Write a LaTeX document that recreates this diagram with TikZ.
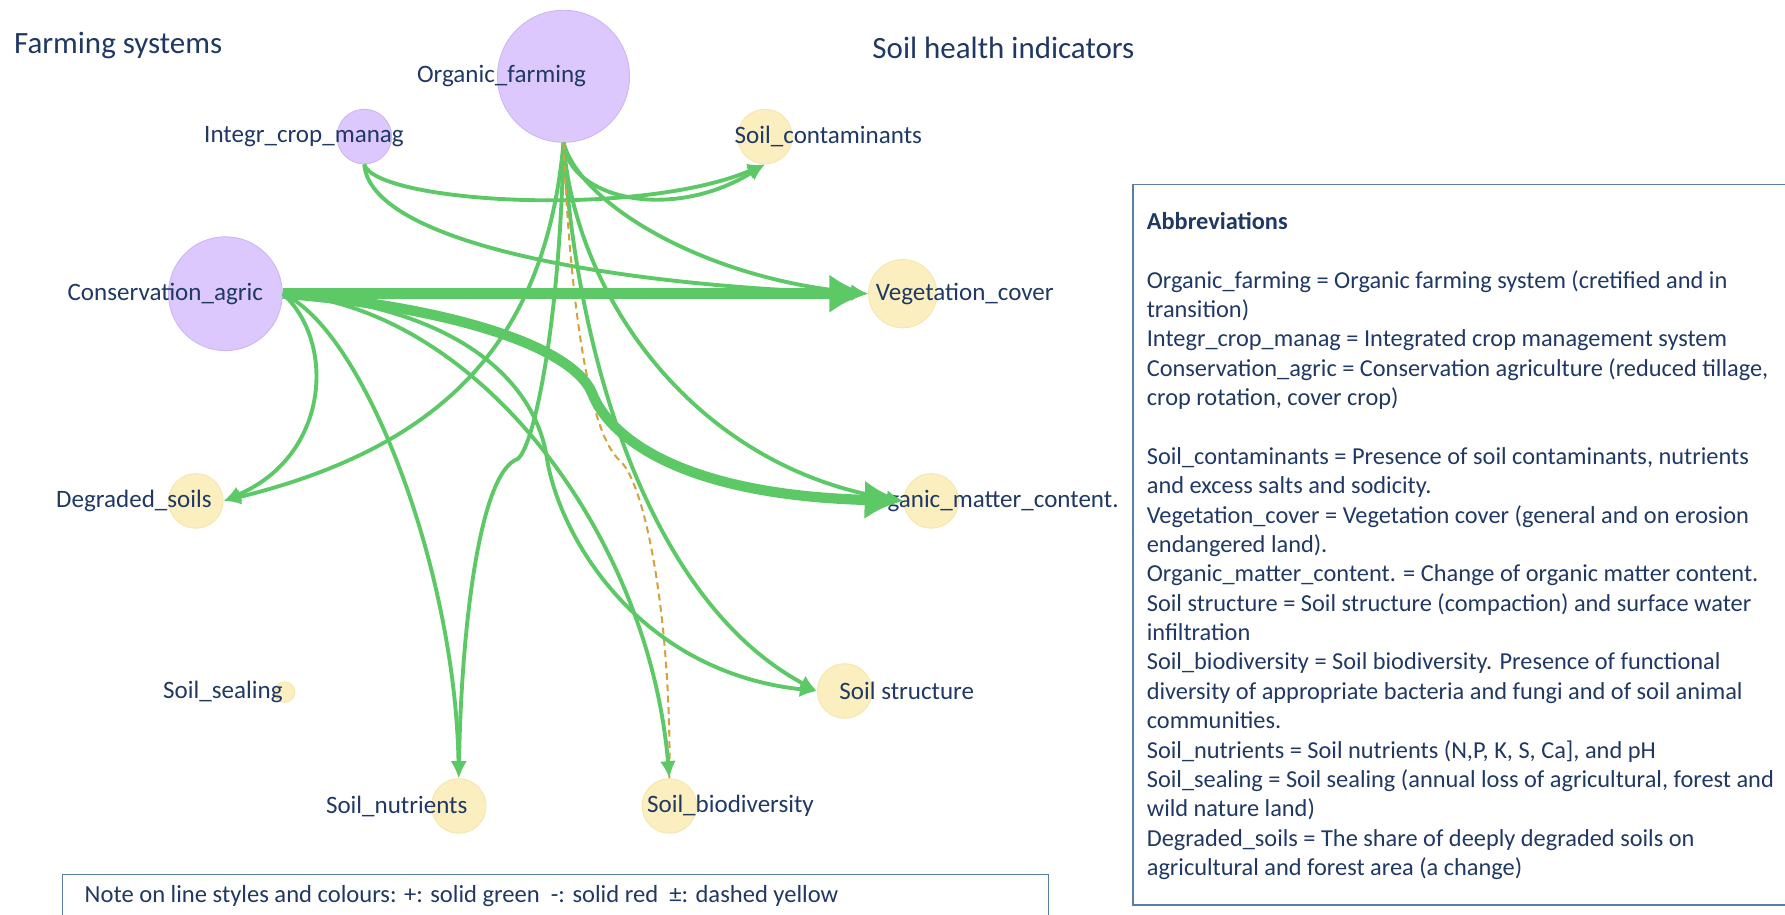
\documentclass[tikz,border=0pt]{standalone}
\usepackage{fontspec}
\setmainfont{Carlito}
\usetikzlibrary{arrows.meta}

\definecolor{edgegreen}{HTML}{5CC866}
\definecolor{farmfill}{HTML}{DCC8FC}
\definecolor{farmline}{HTML}{CDB6F6}
\definecolor{soilfill}{HTML}{FBEFC0}
\definecolor{soilline}{HTML}{F6E6AE}
\definecolor{labelblue}{HTML}{1F3864}
\definecolor{mixyellow}{HTML}{D6A23E}
\definecolor{boxline}{HTML}{5A7DA6}

\begin{document}
\begin{tikzpicture}[x=0.5pt, y=-0.5pt, >=Latex]
	\tikzstyle{farm} = [circle, draw=farmline, fill=farmfill, inner sep=0pt]
	\tikzstyle{soil} = [circle, draw=soilline, fill=soilfill, inner sep=0pt]
	\tikzstyle{lbl} = [text=labelblue, font=\fontsize{11}{13}\selectfont, inner sep=0pt]
	\tikzstyle{heading} = [text=labelblue, font=\fontsize{13.6}{16}\selectfont, inner sep=0pt, anchor=west]
	\tikzstyle{plusedge} = [draw=edgegreen, line width=1.7pt, -{Latex[length=7.5pt,width=7pt]}]
	\tikzstyle{plusthick} = [draw=edgegreen, line width=5pt, -{Latex[length=17pt,width=17pt]}]
	\tikzstyle{mixedge} = [draw=mixyellow, line width=0.9pt, dash pattern=on 3pt off 2pt]
	
	\useasboundingbox (0, 0) rectangle (1568, 803);
	\clip (0, 0) rectangle (1568, 803);
	
	\node[heading] at (12, 40) (farmtitle) {Farming systems};
	\node[heading] at (766, 42) (soiltitle) {Soil health indicators};
	
	% farming systems
	\node[farm, minimum size=58pt] at (495, 67)  (of)  {};
	\node[farm, minimum size=24pt] at (320, 120) (icm) {};
	\node[farm, minimum size=50pt] at (198, 258) (ca)  {};
	
	% soil health indicators
	\node[soil, minimum size=24pt] at (672, 120) (sc)   {};
	\node[soil, minimum size=30pt] at (793, 258) (vc)   {};
	\node[soil, minimum size=24pt] at (172, 440) (ds)   {};
	\node[soil, minimum size=24pt] at (818, 440) (omc)  {};
	\node[soil, minimum size=9pt]  at (250, 608) (seal) {};
	\node[soil, minimum size=24pt] at (742, 607) (ss)   {};
	\node[soil, minimum size=24pt] at (403, 708) (sn)   {};
	\node[soil, minimum size=24pt] at (588, 708) (sb)   {};
	
	\node[lbl, anchor=west] at (366, 67)  (oflab)   {Organic\_farming};
	\node[lbl, anchor=west] at (179, 120) (icmlab)  {Integr\_crop\_manag};
	\node[lbl, anchor=west] at (59, 258)  (calab)   {Conservation\_agric};
	\node[lbl, anchor=west] at (645, 120) (sclab)   {Soil\_contaminants};
	\node[lbl, anchor=west] at (769, 258) (vclab)   {Vegetation\_cover};
	\node[lbl, anchor=west] at (49, 440)  (dslab)   {Degraded\_soils};
	\node[lbl, anchor=east] at (983, 440) (omclab)  {Organic\_matter\_content.};
	\node[lbl, anchor=west] at (143, 608) (seallab) {Soil\_sealing};
	\node[lbl, anchor=west] at (737, 607) (sslab)   {Soil structure};
	\node[lbl, anchor=west] at (286, 708) (snlab)   {Soil\_nutrients};
	\node[lbl, anchor=west] at (568, 708) (sblab)   {Soil\_biodiversity};
	
	% Integr_crop_manag
	\draw[plusedge] (icm.south) .. controls (330, 178) and (560, 192) .. (sc.south);
	\draw[plusedge] (icm.south) .. controls (325, 210) and (520, 250) .. (vc.west);
	
	% Organic_farming
	\draw[plusedge] (of.south) .. controls (500, 175) and (590, 195) .. (sc.south);
	\draw[plusedge] (of.south) .. controls (510, 180) and (620, 245) .. (vc.west);
	\draw[plusedge] (of.south) .. controls (505, 260) and (610, 410) .. (omc.west);
	\draw[plusedge] (of.south) .. controls (505, 300) and (565, 525) .. (ss.west);
	\draw[plusedge] (of.south) .. controls (492, 280) and (470, 390) .. (455, 403)
		.. controls (420, 415) and (405, 560) .. (sn.north);
	\draw[plusedge] (of.south) .. controls (480, 290) and (400, 390) .. (ds.east);
	\draw[mixedge] (of.south) .. controls (500, 250) and (515, 380) .. (545, 405)
		.. controls (570, 430) and (590, 560) .. (sb.north);
	
	% Conservation_agric
	\draw[plusthick] (ca.east) -- (vc.west);
	\draw[plusthick, line width=4.5pt] (ca.east) .. controls (380, 268) and (500, 300) .. (520, 345)
		.. controls (535, 385) and (600, 435) .. (omc.west);
	\draw[plusedge] (ca.east) .. controls (295, 300) and (290, 400) .. (ds.east);
	\draw[plusedge] (ca.east) .. controls (320, 290) and (400, 500) .. (sn.north);
	\draw[plusedge] (ca.east) .. controls (420, 270) and (570, 470) .. (sb.north);
	\draw[plusedge] (ca.east) .. controls (410, 270) and (470, 340) .. (480, 400)
		.. controls (490, 470) and (560, 590) .. (ss.west);
	
	% abbreviations
	\draw[boxline, line width=0.7pt] (995, 162) rectangle (1600, 795);
	\node[lbl, anchor=north west, align=left, font=\fontsize{10.7}{12.9}\selectfont] at (1007, 186) (abbr)
	{\textbf{Abbreviations}\\[12.9pt]
	Organic\_farming = Organic farming system (cretified and in\\
	transition)\\
	Integr\_crop\_manag = Integrated crop management system\\
	Conservation\_agric = Conservation agriculture (reduced tillage,\\
	crop rotation, cover crop)\\[12.9pt]
	Soil\_contaminants = Presence of soil contaminants, nutrients\\
	and excess salts and sodicity.\\
	Vegetation\_cover = Vegetation cover (general and on erosion\\
	endangered land).\\
	Organic\_matter\_content. = Change of organic matter content.\\
	Soil structure = Soil structure (compaction) and surface water\\
	infiltration\\
	Soil\_biodiversity = Soil biodiversity. Presence of functional\\
	diversity of appropriate bacteria and fungi and of soil animal\\
	communities.\\
	Soil\_nutrients = Soil nutrients (N,P, K, S, Ca], and pH\\
	Soil\_sealing = Soil sealing (annual loss of agricultural, forest and\\
	wild nature land)\\
	Degraded\_soils = The share of deeply degraded soils on\\
	agricultural and forest area (a change)};
	
	% note
	\draw[boxline, line width=0.7pt] (55, 768) rectangle (921, 840);
	\node[lbl, anchor=west, font=\fontsize{10.8}{13}\selectfont] at (74, 787) (note)
	{Note on line styles and colours: +: solid green\ \ -: solid red\ \ ±: dashed yellow};
\end{tikzpicture}
\end{document}
